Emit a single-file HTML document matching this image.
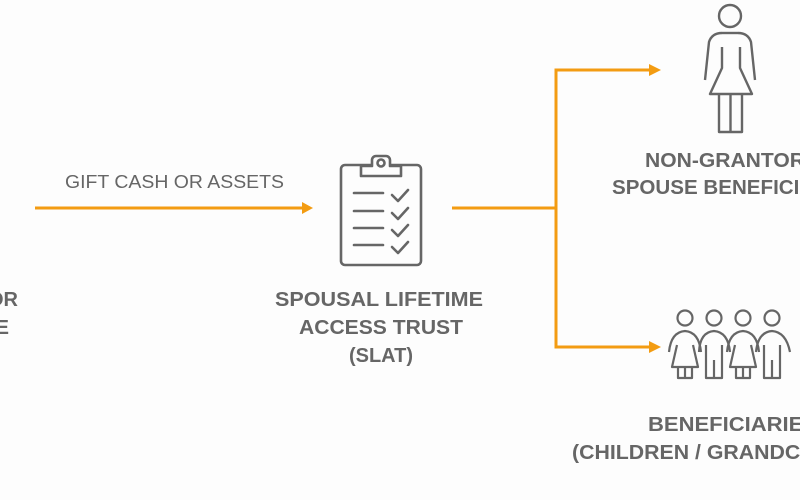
<!DOCTYPE html>
<html><head><meta charset="utf-8"><style>
html,body{margin:0;padding:0;background:#fdfdfd;}
svg{display:block;}
text{font-family:"Liberation Sans",Arial,sans-serif;fill:#666;}
.b{font-weight:bold;font-size:20px;}
</style></head><body>
<svg width="800" height="500" viewBox="0 0 800 500" xmlns="http://www.w3.org/2000/svg">
<rect width="800" height="500" fill="#fdfdfd"/>
<g stroke="#f39c12" stroke-width="3" fill="none">
<line x1="35" y1="208" x2="304" y2="208"/>
<polyline points="452,208 556,208"/>
<polyline points="651,70 556,70 556,347 651,347"/>
</g>
<g fill="#f39c12">
<polygon points="302,202 313,208 302,214"/>
<polygon points="649,64 661,70 649,76"/>
<polygon points="649,341 661,347 649,353"/>
</g>
<text x="65" y="188" font-size="18" textLength="219" lengthAdjust="spacingAndGlyphs">GIFT CASH OR ASSETS</text>
<text class="b" x="18" y="306" text-anchor="end">GRANTOR</text>
<text class="b" x="9" y="334" text-anchor="end">SPOUSE</text>
<g stroke="#666" stroke-width="2.6" fill="none" stroke-linecap="round" stroke-linejoin="round">
<rect x="341" y="165" width="80" height="100" rx="4"/>
<path d="M361,176 V166 H372 V160 a4,4 0 0 1 4,-4 H386 a4,4 0 0 1 4,4 V166 H401 V176 Z" fill="#fdfdfd"/>
<circle cx="381" cy="163" r="3.5"/>
<line x1="354" y1="193" x2="383" y2="193"/><path d="M392,195 l6,6 l10,-11"/>
<line x1="354" y1="211" x2="383" y2="211"/><path d="M392,213 l6,6 l10,-11"/>
<line x1="354" y1="228" x2="383" y2="228"/><path d="M392,230 l6,6 l10,-11"/>
<line x1="354" y1="245" x2="383" y2="245"/><path d="M392,247 l6,6 l10,-11"/>
</g>
<text class="b" x="379" y="306" text-anchor="middle" textLength="208" lengthAdjust="spacingAndGlyphs">SPOUSAL LIFETIME</text>
<text class="b" x="381" y="334" text-anchor="middle" textLength="164" lengthAdjust="spacingAndGlyphs">ACCESS TRUST</text>
<text class="b" x="381" y="362" text-anchor="middle">(SLAT)</text>
<g stroke="#666" stroke-width="2.4" fill="none" stroke-linejoin="round">
<circle cx="730" cy="16" r="11"/>
<path d="M722,33 Q712,33 709,42 L705,80 M738,33 Q748,33 751,42 L755,80"/>
<path d="M722,33 H738"/>
<path d="M722,47 V68 L710,94 H752 L740,68 V47"/>
<path d="M719,94 V132 H742 V94 M730.5,94 V132"/>
</g>
<text class="b" x="645" y="167" textLength="160" lengthAdjust="spacingAndGlyphs">NON-GRANTOR</text>
<text class="b" x="612" y="194" textLength="230" lengthAdjust="spacingAndGlyphs">SPOUSE BENEFICIARY</text>
<g stroke="#666" stroke-width="2.2" fill="none" stroke-linejoin="round">
<circle cx="685" cy="318" r="7.5"/><circle cx="714" cy="318" r="7.5"/><circle cx="743" cy="318" r="7.5"/><circle cx="772" cy="318" r="7.5"/>
<path d="M669,352 Q671,332 685,331 Q699,332 701,352"/>
<path d="M677,345 L672,367 H698 L693,345 M678,367 V378 H692 V367 M685,367 V378"/>
<path d="M699,352 Q700,332 714,331 Q728,332 730,352"/>
<path d="M706,345 V378 H722 V345 M714,360 V378"/>
<path d="M727,352 Q729,332 743,331 Q757,332 759,352"/>
<path d="M735,345 L730,367 H756 L751,345 M736,367 V378 H750 V367 M743,367 V378"/>
<path d="M756,352 Q758,332 772,331 Q786,332 790,352"/>
<path d="M764,345 V378 H780 V345 M772,360 V378"/>
</g>
<text class="b" x="648" y="431" textLength="170" lengthAdjust="spacingAndGlyphs">BENEFICIARIES</text>
<text class="b" x="572" y="459" textLength="330" lengthAdjust="spacingAndGlyphs">(CHILDREN / GRANDCHILDREN)</text>
</svg>
</body></html>
